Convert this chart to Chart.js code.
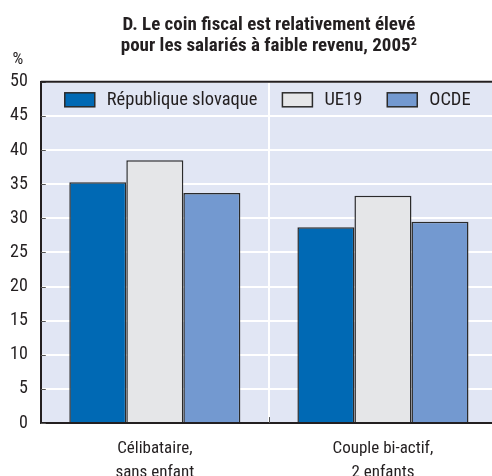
<!DOCTYPE html>
<html lang="fr">
  <head>
    <meta charset="UTF-8" />
    <title>Coin fiscal</title>
    <style>
      html, body { margin: 0; padding: 0; overflow: hidden; background: #fff; }
      .wrap { position: relative; width: 497px; height: 476px; }
    </style>
  </head>
  <body>
    <div class="wrap">
      <canvas id="chart-1"></canvas>
    </div>
    <script src="https://cdn.jsdelivr.net/npm/chart.js"></script>
    <script>
      const categories = [
        ["Célibataire,", "sans enfant"],
        ["Couple bi-actif,", "2 enfants"],
      ];
      const seriesNames = ["République slovaque", "UE19", "OCDE"];
      const slovaque = [35.3, 28.7];
      const ue19 = [38.5, 33.3];
      const ocde = [33.7, 29.5];
      const yTicks = [0, 5, 10, 15, 20, 25, 30, 35, 40, 45, 50];

      const FONT = "'Roboto Condensed', sans-serif";
      const INK = "#231f20";

      // fond, cadre haut, petits traits, "%" et légende dans la zone du graphique
      const decor = {
        id: "decor",
        beforeDraw(chart) {
          const { ctx, chartArea } = chart;
          ctx.save();
          ctx.fillStyle = "#e1e6f4";
          ctx.fillRect(chartArea.left, chartArea.top, chartArea.right - chartArea.left, chartArea.bottom - chartArea.top);
          ctx.restore();
        },
        afterDraw(chart) {
          const { ctx, chartArea, scales } = chart;
          ctx.save();
          ctx.strokeStyle = "#555";
          ctx.lineWidth = 1;
          yTicks.forEach((v) => {
            const y = Math.round(scales.y.getPixelForValue(v)) + 0.5;
            ctx.beginPath();
            ctx.moveTo(chartArea.left, y);
            ctx.lineTo(chartArea.left + 5, y);
            ctx.stroke();
          });
          const mid = Math.round((scales.x.getPixelForValue(0) + scales.x.getPixelForValue(1)) / 2) + 0.5;
          ctx.beginPath();
          ctx.moveTo(mid, chartArea.bottom);
          ctx.lineTo(mid, chartArea.bottom - 6);
          ctx.stroke();

          // cadre haut
          ctx.strokeStyle = INK;
          ctx.lineWidth = 2;
          ctx.beginPath();
          ctx.moveTo(chartArea.left, chartArea.top);
          ctx.lineTo(chartArea.right, chartArea.top);
          ctx.stroke();

          ctx.fillStyle = INK;
          ctx.font = "17px " + FONT;
          ctx.textAlign = "center";
          ctx.textBaseline = "middle";
          ctx.fillText("%", 18, chartArea.top - 22);

          // légende
          ctx.font = "18.5px " + FONT;
          ctx.textAlign = "left";
          let x = chartArea.left + 24;
          const yc = chartArea.top + 18;
          chart.data.datasets.forEach((ds) => {
            ctx.fillStyle = ds.backgroundColor;
            ctx.fillRect(x, yc - 7, 30, 14);
            ctx.strokeStyle = "#2b2b2b";
            ctx.lineWidth = 1.5;
            ctx.strokeRect(x, yc - 7, 30, 14);
            ctx.fillStyle = INK;
            ctx.fillText(ds.label, x + 42, yc + 1);
            x += 42 + ctx.measureText(ds.label).width + 25;
          });
          ctx.restore();
        },
      };

      new Chart(document.getElementById("chart-1"), {
        type: "bar",
        data: {
          labels: categories,
          datasets: [
            { label: seriesNames[0], data: slovaque, backgroundColor: "#0069b4" },
            { label: seriesNames[1], data: ue19, backgroundColor: "#e5e6e8" },
            { label: seriesNames[2], data: ocde, backgroundColor: "#7399d0" },
          ].map((d) => Object.assign(d, {
            borderColor: "#2b2b2b",
            borderWidth: 1.5,
            borderSkipped: "bottom",
            categoryPercentage: 0.75,
            barPercentage: 1,
          })),
        },
        options: {
          responsive: true,
          maintainAspectRatio: false,
          animation: false,
          layout: { padding: { left: -3, right: 0, top: 0, bottom: -22 } },
          plugins: {
            title: {
              display: true,
              fullSize: false,
              text: [
                "D. Le coin fiscal est relativement élevé",
                "pour les salariés à faible revenu, 2005²",
              ],
              color: INK,
              font: { family: FONT, size: 19, weight: "bold", lineHeight: 1.1 },
              padding: { top: 15, bottom: 25 },
            },
            legend: { display: false },
            tooltip: { enabled: false },
          },
          scales: {
            x: {
              grid: { color: "#ffffff", lineWidth: 2, drawTicks: false },
              border: { color: INK, width: 2 },
              ticks: {
                color: INK,
                font: { family: FONT, size: 17, lineHeight: 1.38 },
                padding: 14,
                maxRotation: 0,
              },
            },
            y: {
              min: 0,
              max: 50,
              afterBuildTicks(scale) {
                scale.ticks = yTicks.map((v) => ({ value: v }));
              },
              grid: { color: "#ffffff", lineWidth: 2, drawTicks: false },
              border: { color: INK, width: 2 },
              ticks: {
                color: INK,
                font: { family: FONT, size: 18 },
                padding: 13,
              },
            },
          },
        },
        plugins: [decor],
      });
    </script>
  </body>
</html>
